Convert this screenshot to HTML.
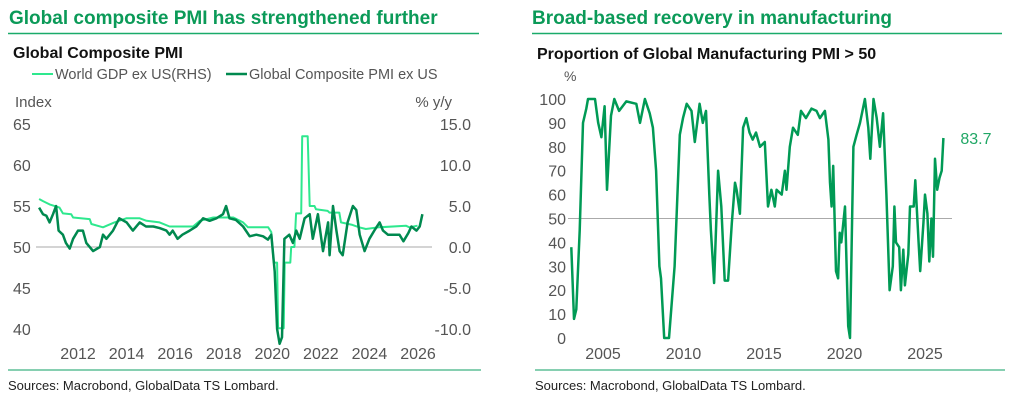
<!DOCTYPE html>
<html><head><meta charset="utf-8">
<style>
body{margin:0;background:#fff;width:1011px;height:405px;overflow:hidden;font-family:"Liberation Sans",sans-serif;}
svg{position:absolute;left:0;top:0}
</style></head>
<body>
<svg id="c" width="1011" height="405" font-family="Liberation Sans, sans-serif">
<text x="9" y="24" font-size="19" font-weight="bold" fill="#0b9a58">Global composite PMI has strengthened further</text>
<line x1="8" y1="33.5" x2="479" y2="33.5" stroke="#1aab6a" stroke-width="1.5"/>
<text x="13" y="58" font-size="16" font-weight="bold" fill="#111">Global Composite PMI</text>
<g>
<line x1="32" y1="74" x2="53" y2="74" stroke="#2ee88e" stroke-width="2"/>
<text x="55" y="79" font-size="14.5" fill="#555">World GDP ex US(RHS)</text>
<line x1="226" y1="74" x2="247" y2="74" stroke="#00894f" stroke-width="2.5"/>
<text x="249" y="79" font-size="14.5" fill="#555">Global Composite PMI ex US</text>
</g>
<text x="15" y="107" font-size="15" fill="#555">Index</text>
<text x="452" y="107" font-size="15" fill="#555" text-anchor="end">% y/y</text>
<g id="L"></g>
<line x1="8" y1="370" x2="481" y2="370" stroke="#5fbf97" stroke-width="1.5"/>
<text x="8" y="390" font-size="13" fill="#222">Sources: Macrobond, GlobalData TS Lombard.</text>

<text x="532" y="24" font-size="19" font-weight="bold" fill="#0b9a58">Broad-based recovery in manufacturing</text>
<line x1="532" y1="33.5" x2="1002" y2="33.5" stroke="#1aab6a" stroke-width="1.5"/>
<text x="537" y="59" font-size="16" font-weight="bold" fill="#111">Proportion of Global Manufacturing PMI &gt; 50</text>
<text x="564" y="81" font-size="14" fill="#555">%</text>
<g id="R"></g>
<line x1="535" y1="370" x2="1005" y2="370" stroke="#5fbf97" stroke-width="1.5"/>
<text x="535" y="390" font-size="13" fill="#222">Sources: Macrobond, GlobalData TS Lombard.</text>
</svg>
<script>
const NS="http://www.w3.org/2000/svg";
// Left chart data
const leftYTicks=[65,60,55,50,45,40];
const rightYTicks=["15.0","10.0","5.0","0.0","-5.0","-10.0"];
const leftXTicks=[2012,2014,2016,2018,2020,2022,2024,2026];
const pmiDates=[2010.4,2010.56,2010.7,2010.83,2010.97,2011.1,2011.2,2011.38,2011.5,2011.66,2011.8,2012,2012.2,2012.34,2012.62,2012.9,2013.03,2013.17,2013.44,2013.7,2014,2014.26,2014.54,2014.8,2015.1,2015.36,2015.64,2015.77,2015.9,2016.1,2016.3,2016.6,2016.87,2017.15,2017.42,2017.7,2017.97,2018.1,2018.24,2018.5,2018.8,2019.07,2019.34,2019.62,2019.82,2019.96,2020.1,2020.2,2020.3,2020.4,2020.5,2020.7,2020.85,2020.99,2021.13,2021.33,2021.54,2021.67,2021.88,2022.09,2022.3,2022.36,2022.5,2022.64,2022.77,2022.9,2023.1,2023.32,2023.46,2023.6,2023.8,2024.0,2024.2,2024.42,2024.56,2024.76,2025.04,2025.24,2025.4,2025.6,2025.73,2025.94,2026.07,2026.18];
const pmiValues=[54.8,54,53.8,53,54,55,52,51.5,50.5,49.8,51,52,52,50.5,49.5,50,51.5,51,52,53.5,53,52,53,52.5,52.5,52.3,52,51.5,52,51,51.5,52,52.5,53.5,53.2,53.5,54,55,53.5,53.3,52.5,51.3,51.5,51.3,50.9,51.5,47,40,38,39,51,51.5,50.5,52,51,53.5,54,51,54,49.5,53,49,55,52,49.5,49,53,55,54.5,51.5,49.5,51,52,53,52,51.5,51.5,51.5,50.7,51.7,52.5,52,52.5,54];
const gdpDates=[2010.4,2010.56,2010.83,2011.24,2011.38,2011.72,2011.8,2012.48,2012.55,2013.03,2013.5,2013.99,2014.54,2014.82,2015.36,2015.77,2016.74,2017.02,2017.57,2018.4,2018.8,2019.0,2019.83,2019.96,2020.06,2020.2,2020.24,2020.47,2020.51,2020.74,2020.78,2020.91,2020.98,2021.19,2021.23,2021.46,2021.54,2021.74,2021.8,2022.28,2022.35,2022.76,2022.83,2023.3,2023.58,2023.85,2024.4,2025.5,2025.64,2025.98];
const gdpValues=[5.85,5.6,5.2,4.8,4.1,4.0,3.6,3.4,2.8,2.4,3.0,3.5,3.5,3.2,3.0,2.5,2.5,3.2,3.6,3.6,3.0,2.4,2.4,1.8,-1.9,-1.9,-9.9,-9.9,-1.9,-1.9,0,0,4.1,4.1,13.5,13.5,5.0,5.0,4.6,4.4,4.2,4.2,3.0,2.7,2.4,2.2,2.4,2.6,2.4,2.6];
// Right chart data
const rYTicks=[100,90,80,70,60,50,40,30,20,10,0];
const rXTicks=[2005,2010,2015,2020,2025];
const shareDates=[2003.03,2003.2,2003.34,2003.55,2003.76,2003.96,2004.07,2004.5,2004.7,2004.9,2005.1,2005.25,2005.5,2005.7,2006.0,2006.45,2007.07,2007.3,2007.6,2007.9,2008.1,2008.3,2008.5,2008.6,2008.8,2009.1,2009.45,2009.77,2009.97,2010.2,2010.5,2010.7,2011.0,2011.2,2011.4,2011.6,2011.7,2011.9,2012.15,2012.35,2012.56,2012.77,2013.0,2013.2,2013.3,2013.5,2013.7,2013.9,2014.1,2014.3,2014.5,2014.75,2015.05,2015.25,2015.46,2015.67,2015.78,2016.1,2016.3,2016.4,2016.6,2016.8,2017.1,2017.3,2017.6,2017.95,2018.26,2018.47,2018.78,2019.0,2019.1,2019.2,2019.3,2019.47,2019.6,2019.7,2019.8,2020.03,2020.23,2020.34,2020.55,2020.75,2020.96,2021.27,2021.48,2021.6,2021.8,2022.0,2022.2,2022.4,2022.6,2022.8,2023.0,2023.1,2023.2,2023.4,2023.5,2023.65,2023.75,2023.96,2024.07,2024.3,2024.4,2024.6,2024.7,2024.9,2025.0,2025.15,2025.27,2025.4,2025.5,2025.62,2025.76,2025.9,2026.04,2026.14];
const shareValues=[38,8,12,45,90,96,100,100,90,84,97,62,93,100,95,99,98,90,100,94,88,70,30,25,0,0,30,85,92,98,95,82,98,90,95,60,45,23,70,55,24,24,48,65,62,52,88,92,86,83,86,80,82,55,62,55,62,60,70,62,80,88,85,95,92,96,95,92,95,83,65,55,72,28,25,44,40,55,5,0,80,85,90,100,88,75,100,92,80,94,60,20,30,55,40,38,20,37,22,35,55,55,66,40,28,48,60,52,32,50,34,75,62,67,70,83.7];
const lastLabel="83.7";

function mk(tag,attrs,parent){const e=document.createElementNS(NS,tag);for(const k in attrs)e.setAttribute(k,attrs[k]);parent.appendChild(e);return e;}
const lx=y=>78+(y-2012)*(340/14);
const ly=v=>247-(v-50)*(41/5);
const ry=v=>ly(50+v);
const L=document.getElementById('L');
let z=mk('line',{x1:36,x2:432,y1:ly(50),y2:ly(50),stroke:'#aaa','stroke-width':1},L);


leftYTicks.forEach(v=>{const t=mk('text',{x:13,y:ly(v)+6,'font-size':16,fill:'#555'},L);t.textContent=v;

});
rightYTicks.forEach(s=>{const t=mk('text',{x:471,y:ry(parseFloat(s))+6,'font-size':16,fill:'#555','text-anchor':'end'},L);t.textContent=s;

});
leftXTicks.forEach(v=>{const t=mk('text',{x:lx(v),y:359,'font-size':16,fill:'#555','text-anchor':'middle'},L);t.textContent=v;

});
const clipBot=ly(38.2);
let gp=gdpDates.map((d,i)=>lx(d).toFixed(1)+','+ry(gdpValues[i]).toFixed(1)).join(' ');
let g1=mk('polyline',{points:gp,fill:'none',stroke:'#2ee88e','stroke-width':2,'stroke-linejoin':'round'},L);


let pp=pmiDates.map((d,i)=>lx(d).toFixed(1)+','+Math.min(clipBot,ly(pmiValues[i])).toFixed(1)).join(' ');
let p1=mk('polyline',{points:pp,fill:'none',stroke:'#00894f','stroke-width':2.5,'stroke-linejoin':'round'},L);


const rx=y=>603+(y-2005)*(322/20);
const rv=v=>338-v*(239/100);
const R=document.getElementById('R');
let z2=mk('line',{x1:568,x2:952,y1:rv(50),y2:rv(50),stroke:'#aaa','stroke-width':1},R);


rYTicks.forEach(v=>{const t=mk('text',{x:566,y:rv(v)+6,'font-size':16,fill:'#555','text-anchor':'end'},R);t.textContent=v;

});
rXTicks.forEach(v=>{const t=mk('text',{x:rx(v),y:359,'font-size':16,fill:'#555','text-anchor':'middle'},R);t.textContent=v;

});
let sp=shareDates.map((d,i)=>rx(d).toFixed(1)+','+rv(shareValues[i]).toFixed(1)).join(' ');
let s1=mk('polyline',{points:sp,fill:'none',stroke:'#009a55','stroke-width':2.5,'stroke-linejoin':'round'},R);


const n=shareValues.length-1;
let lb=mk('text',{x:rx(shareDates[n])+17,y:rv(shareValues[n])+6,'font-size':16,fill:'#20a765'},R);lb.textContent=lastLabel;


</script>
</body></html>
